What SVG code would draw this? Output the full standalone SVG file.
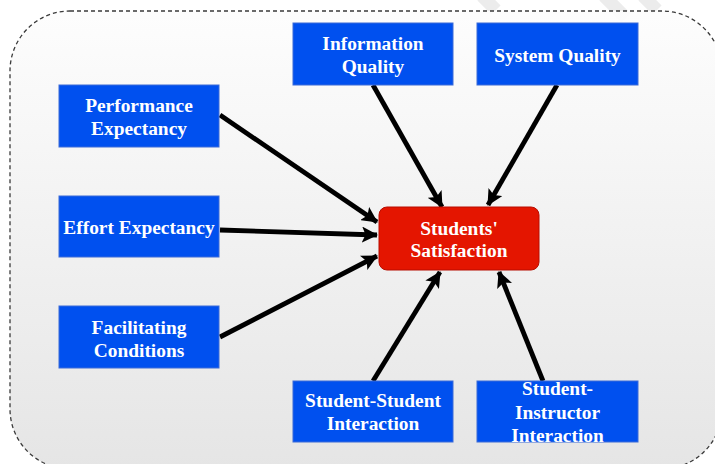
<svg xmlns="http://www.w3.org/2000/svg" width="715" height="464" viewBox="0 0 715 464">
<defs>
<linearGradient id="bg" x1="0" y1="0" x2="0" y2="1">
<stop offset="0" stop-color="#fdfdfd"/>
<stop offset="1" stop-color="#e3e3e3"/>
</linearGradient>
<marker id="ah" viewBox="0 0 16 16" refX="15" refY="8" markerWidth="16" markerHeight="16" markerUnits="userSpaceOnUse" orient="auto">
<path d="M0,0 L16,8 L0,16 L3.5,8 Z" fill="#000"/>
</marker>
<style>
.box{fill:#0050ef;stroke:#3a6ad8;stroke-width:1}
.core{fill:#e41500;stroke:#b80d00;stroke-width:1}
.t{font-family:"Liberation Serif","Times New Roman",serif;font-weight:bold;font-size:19.4px;fill:#fff;text-anchor:middle}
.c{stroke:#000;stroke-width:4.8;fill:none;marker-end:url(#ah)}
.wm{stroke:#ececec;stroke-width:13;fill:none}
</style>
</defs>
<g id="watermark">
<path class="wm" d="M482,-4 L496,10"/>
<path class="wm" d="M604,-4 L626,18"/>
<path class="wm" d="M643,-4 L657,10"/>
</g>
<rect x="10" y="11" width="712" height="458" rx="60" ry="60" fill="url(#bg)" fill-opacity="0.92" stroke="#3a3a3a" stroke-width="1.3" stroke-dasharray="4 3"/>
<g id="connectors">
<path class="c" d="M220,115 L377,222"/>
<path class="c" d="M220,230 L377,235"/>
<path class="c" d="M220,337 L377,256"/>
<path class="c" d="M373,85 L442,207"/>
<path class="c" d="M557,85 L488,205"/>
<path class="c" d="M373,381 L440,272"/>
<path class="c" d="M543,381 L499,272"/>
</g>
<g id="performance">
<rect class="box" x="59" y="85" width="160" height="62"/>
<text class="t" x="139" y="112">Performance</text>
<text class="t" x="139" y="135">Expectancy</text>
</g>
<g id="effort">
<rect class="box" x="59" y="196" width="160" height="61"/>
<text class="t" x="139" y="233.5">Effort Expectancy</text>
</g>
<g id="facilitating">
<rect class="box" x="59" y="306" width="160" height="62"/>
<text class="t" x="139" y="333.5">Facilitating</text>
<text class="t" x="139" y="356.5">Conditions</text>
</g>
<g id="information">
<rect class="box" x="293" y="23" width="160" height="62"/>
<text class="t" x="373" y="50">Information</text>
<text class="t" x="373" y="73">Quality</text>
</g>
<g id="system">
<rect class="box" x="477" y="23" width="161" height="62"/>
<text class="t" x="557.5" y="62">System Quality</text>
</g>
<g id="satisfaction">
<rect class="core" x="379" y="207" width="160" height="63" rx="8" ry="8"/>
<text class="t" x="459" y="234.5">Students'</text>
<text class="t" x="459" y="257">Satisfaction</text>
</g>
<g id="student-student">
<rect class="box" x="293" y="381" width="160" height="61"/>
<text class="t" x="373" y="407">Student-Student</text>
<text class="t" x="373" y="430">Interaction</text>
</g>
<g id="student-instructor">
<rect class="box" x="477" y="381" width="161" height="61"/>
<text class="t" x="557.5" y="395">Student-</text>
<text class="t" x="557.5" y="418.5">Instructor</text>
<text class="t" x="557.5" y="441.5">Interaction</text>
</g>
</svg>
